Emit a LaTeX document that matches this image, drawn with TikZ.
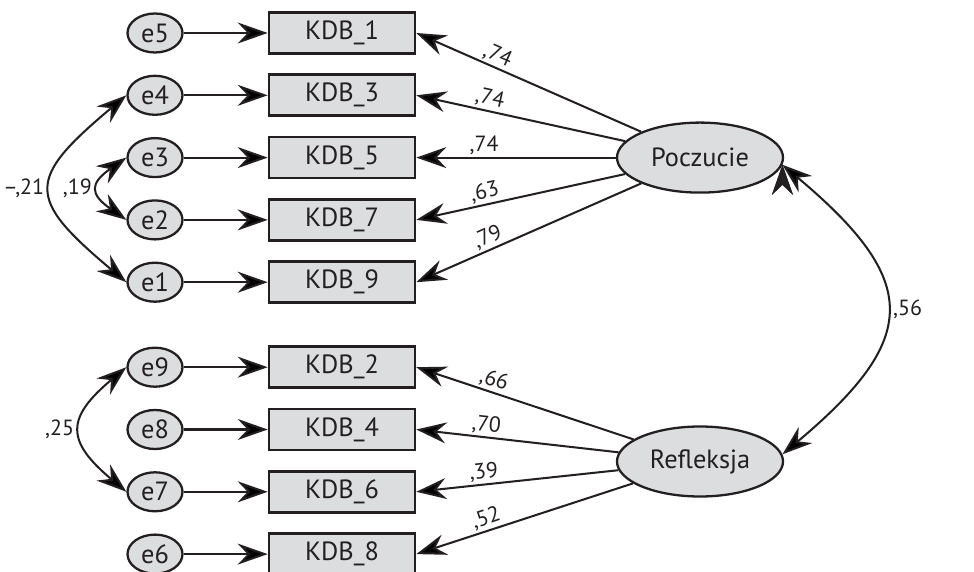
\documentclass[tikz,border=0pt]{standalone}
\usepackage{fontspec}
\setmainfont{PT Sans}
\usepackage{tikz}
\definecolor{linecolor}{RGB}{35,31,32}
\definecolor{fillcolor}{RGB}{220,221,223}
\usetikzlibrary{arrows,arrows.meta,shapes,positioning}
\newcommand{\namefont}{\fontsize{15}{17}\selectfont}
\newcommand{\coeffont}{\fontsize{12.5}{14}\selectfont}
\tikzset{
	errvar/.style={
		ellipse,
		draw=linecolor,
		line width=1.3pt,
		fill=fillcolor,
		text=linecolor,
		minimum width=11mm,
		minimum height=7.8mm,
		inner sep=0pt,
		font=\namefont
	},
	indicator/.style={
		rectangle,
		draw=linecolor,
		line width=1.5pt,
		fill=fillcolor,
		text=linecolor,
		minimum width=29.2mm,
		minimum height=8.2mm,
		font=\namefont
	},
	latent/.style={
		ellipse,
		draw=linecolor,
		line width=1.3pt,
		fill=fillcolor,
		text=linecolor,
		minimum width=33.2mm,
		minimum height=14mm,
		font=\namefont
	},
	arrow/.style={
		draw=linecolor,
		line width=1.15pt,
		->,
		>={Stealth[length=6mm,width=4.2mm,inset=2mm]}
	},
	covar/.style={
		draw=linecolor,
		line width=1.15pt,
		<->,
		>={Stealth[length=6mm,width=4.2mm,inset=2mm]}
	},
	coef/.style={
		font=\coeffont,
		text=linecolor
	},
	loading/.style={
		coef,
		pos=0.66,
		sloped,
		above,
		inner sep=1pt
	},
}

\begin{document}
\begin{tikzpicture}[node distance=1.246cm,on grid]
\useasboundingbox (0,0) rectangle (19.48,-11.44);
\node[errvar] (e5) at (3.10,-0.66) {e5};
\node[errvar] (e4) [below=of e5] {e4};
\node[errvar] (e3) [below=of e4] {e3};
\node[errvar] (e2) [below=of e3] {e2};
\node[errvar] (e1) [below=of e2] {e1};
\node[errvar] (e9) [below=1.7cm of e1] {e9};
\node[errvar] (e8) [below=of e9] {e8};
\node[errvar] (e7) [below=of e8] {e7};
\node[errvar] (e6) [below=of e7] {e6};
\node[indicator] (k1) [right=3.74cm of e5] {KDB\_1};
\node[indicator] (k3) [right=3.74cm of e4] {KDB\_3};
\node[indicator] (k5) [right=3.74cm of e3] {KDB\_5};
\node[indicator] (k7) [right=3.74cm of e2] {KDB\_7};
\node[indicator] (k9) [right=3.74cm of e1] {KDB\_9};
\node[indicator] (k2) [right=3.74cm of e9] {KDB\_2};
\node[indicator] (k4) [right=3.74cm of e8] {KDB\_4};
\node[indicator] (k6) [right=3.74cm of e7] {KDB\_6};
\node[indicator] (k8) [right=3.74cm of e6] {KDB\_8};
\node[latent] (pocz) [right=7.16cm of k5] {Poczucie};
\node[latent] (refl) [right=7.16cm of k4,yshift=-0.64cm] {Refleksja};
\path[arrow]
(e5) edge (k1)
(e4) edge (k3)
(e3) edge (k5)
(e2) edge (k7)
(e1) edge (k9)
(e9) edge (k2)
(e8) edge (k4)
(e7) edge (k6)
(e6) edge (k8)
;
\path[arrow]
(pocz) edge node[loading] {,74} (k1.east)
edge node[loading] {,74} (k3.east)
edge node[loading] {,74} (k5.east)
edge node[loading] {,63} (k7.east)
edge node[loading] {,79} (k9.east)
(refl) edge node[loading] {,66} (k2.east)
edge node[loading] {,70} (k4.east)
edge node[loading] {,39} (k6.east)
edge node[loading] {,52} (k8.east)
;
% correlations
\path[covar]
(e4.west) edge[out=-140,in=140,looseness=1.8] node[coef,left] {--,21} (e1.west)
(e3.west) edge[out=-145,in=145,looseness=1.85] node[coef,left] {,19} (e2.west)
(e9.west) edge[out=-140,in=140,looseness=1.63] node[coef,left] {,25} (e7.west)
(pocz.-5) edge[out=-40,in=40,looseness=1.6] node[coef,right] {,56} (refl.5)
;
\end{tikzpicture}
\end{document}
